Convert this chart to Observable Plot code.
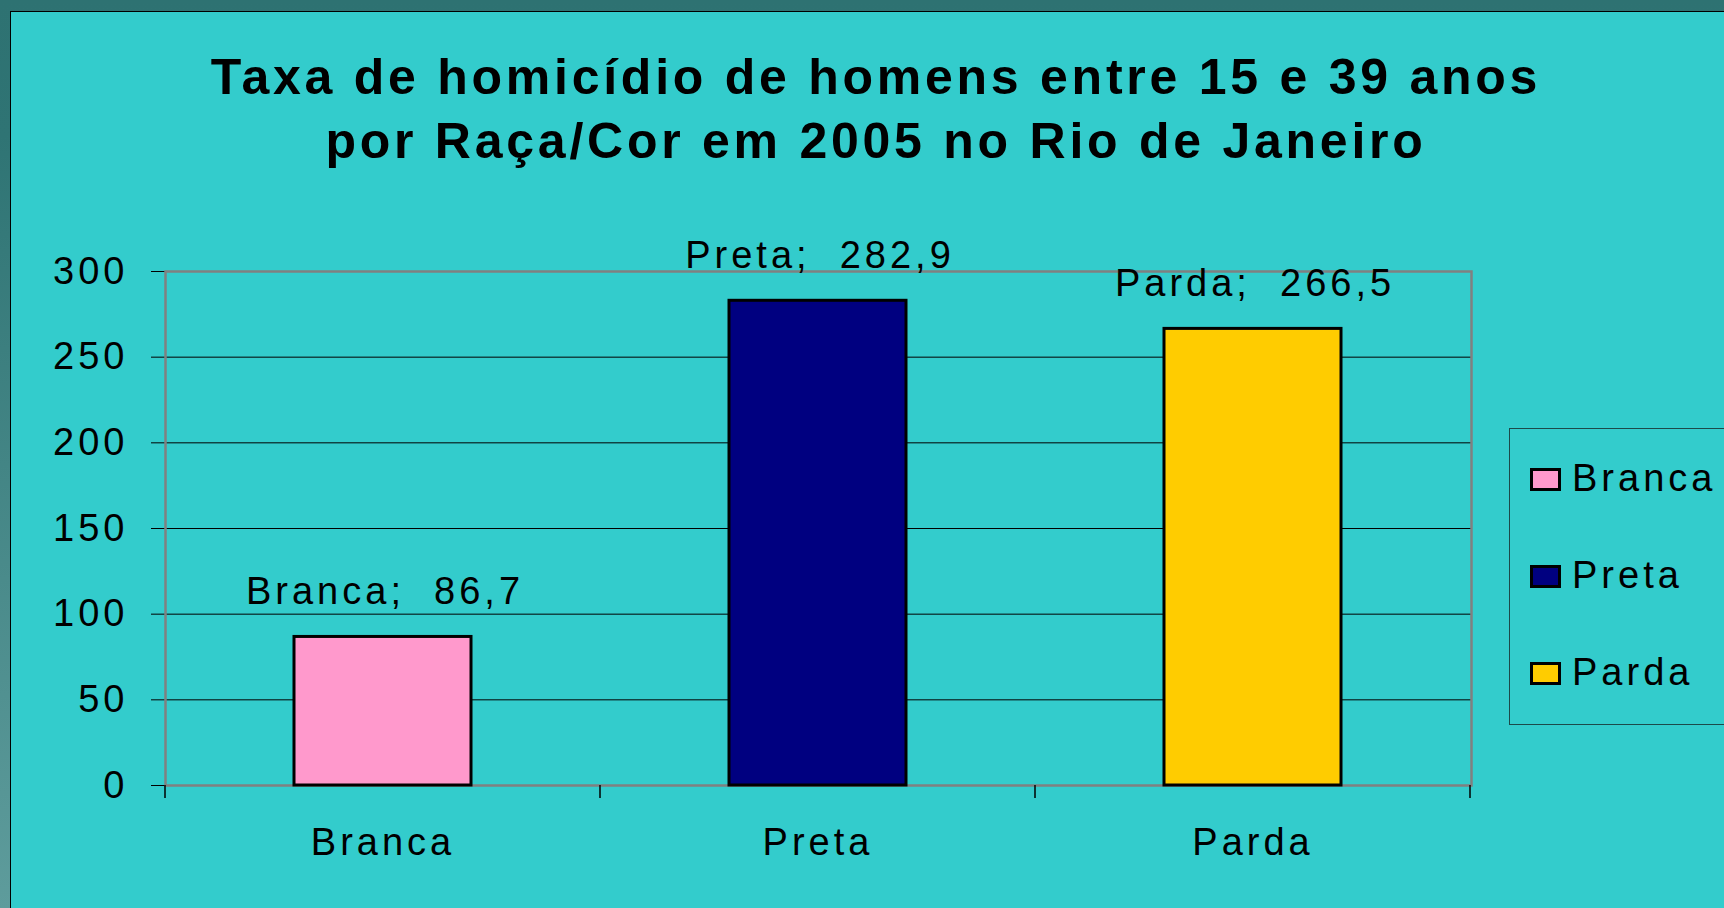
<!DOCTYPE html>
<html>
<head>
<meta charset="utf-8">
<script src="https://cdn.jsdelivr.net/npm/d3@7"></script>
<script src="https://cdn.jsdelivr.net/npm/@observablehq/plot@0.6"></script>
<style>
  html, body { margin: 0; padding: 0; }
  body {
    width: 1724px; height: 908px; overflow: hidden; position: relative;
    background: linear-gradient(to bottom, #2E7272 0%, #2F7474 15%, #5E9C9C 100%);
    font-family: "Liberation Sans", Arial, sans-serif;
  }
  #panel {
    position: absolute; left: 10px; top: 11px; width: 1714px; height: 897px;
    background: #33CCCC; border-left: 1.5px solid #000; border-top: 1.5px solid #000;
  }
  #title {
    position: absolute; left: 0; top: 45px; width: 1752px; text-align: center;
    font-size: 50px; font-weight: bold; line-height: 64px; letter-spacing: 3.75px; color: #000;
  }
  #chart { position: absolute; left: 0; top: 180px; }
  #chart text { white-space: pre; }
  #legend {
    position: absolute; left: 1509px; top: 428px; width: 320px; height: 297px;
    border: 1.5px solid #1c4a4a; box-sizing: border-box;
  }
  .lg-item { position: absolute; left: 20px; height: 40px; }
  .lg-sw {
    position: absolute; left: 0; width: 31px; height: 23px; box-sizing: border-box;
    border: 3px solid #000;
  }
  .lg-tx {
    position: absolute; left: 42px; font-size: 38px; letter-spacing: 4px; line-height: 38px; color: #000;
    white-space: nowrap;
  }
</style>
</head>
<body>
<div id="panel"></div>
<div id="title">Taxa de homicídio de homens entre 15 e 39 anos<br>por Raça/Cor em 2005 no Rio de Janeiro</div>
<div id="chart"></div>
<div id="legend"></div>
<script>
// ---- data ----
const categories = ["Branca", "Preta", "Parda"];
const values = [86.7, 282.9, 266.5];
const yTicks = [0, 50, 100, 150, 200, 250, 300];
const colors = ["#FF99CC", "#000080", "#FFCC00"];

const data = categories.map((c, i) => ({cat: c, value: values[i]}));
const fmt = v => String(v).replace(".", ",");
const gridTicks = yTicks.filter(t => t > 0 && t < 300);

const W = 1500, H = 690;
const plot = Plot.plot({
  width: W,
  height: H,
  marginLeft: 165,
  marginRight: 29,
  marginTop: 91,
  marginBottom: 85,
  style: {
    background: "transparent",
    fontFamily: "'Liberation Sans', Arial, sans-serif",
    fontSize: "38px",
    letterSpacing: "4px",
    color: "#000",
    overflow: "visible"
  },
  x: {
    domain: categories,
    paddingInner: 0.593,
    paddingOuter: 0.2965,
    label: null,
    tickSize: 0,
    tickPadding: 43
  },
  y: {
    domain: [0, 300],
    ticks: yTicks,
    label: null,
    tickSize: 14,
    tickPadding: 23
  },
  color: { domain: categories, range: colors },
  marks: [
    Plot.ruleY(gridTicks, {stroke: "#000", strokeWidth: 1}),
    Plot.frame({stroke: "#808080", strokeWidth: 2.5}),
    Plot.barY(data, {x: "cat", y: "value", fill: "cat", stroke: "#000", strokeWidth: 3}),
    Plot.text(data, {
      x: "cat", y: "value",
      text: d => d.cat + ";\u00a0 " + fmt(d.value),
      lineAnchor: "middle",
      dy: -45,
      dx: 2,
      fill: "#000",
      fontSize: 38
    })
  ]
});
document.getElementById("chart").appendChild(plot);

// category boundary ticks on the x axis, derived from the band scale
const xs = plot.scale("x");
const step = xs.step, bw = xs.bandwidth;
const half = (step - bw) / 2;
const bounds = categories.map(c => xs.apply(c) - half);
bounds.push(xs.apply(categories[categories.length - 1]) + bw + half);
const yBottom = plot.scale("y").apply(0);
d3.select(plot).append("g")
  .selectAll("line").data(bounds).join("line")
  .attr("x1", d => d).attr("x2", d => d)
  .attr("y1", yBottom).attr("y2", yBottom + 13)
  .attr("stroke", "#000").attr("stroke-width", 1.5);

// legend
const legend = d3.select("#legend");
categories.forEach((c, i) => {
  const item = legend.append("div").attr("class", "lg-item").style("top", (39 + i * 97) + "px");
  item.append("div").attr("class", "lg-sw").style("top", "0px").style("background", colors[i]);
  item.append("div").attr("class", "lg-tx").style("top", "-9px").text(c);
});
</script>
</body>
</html>
